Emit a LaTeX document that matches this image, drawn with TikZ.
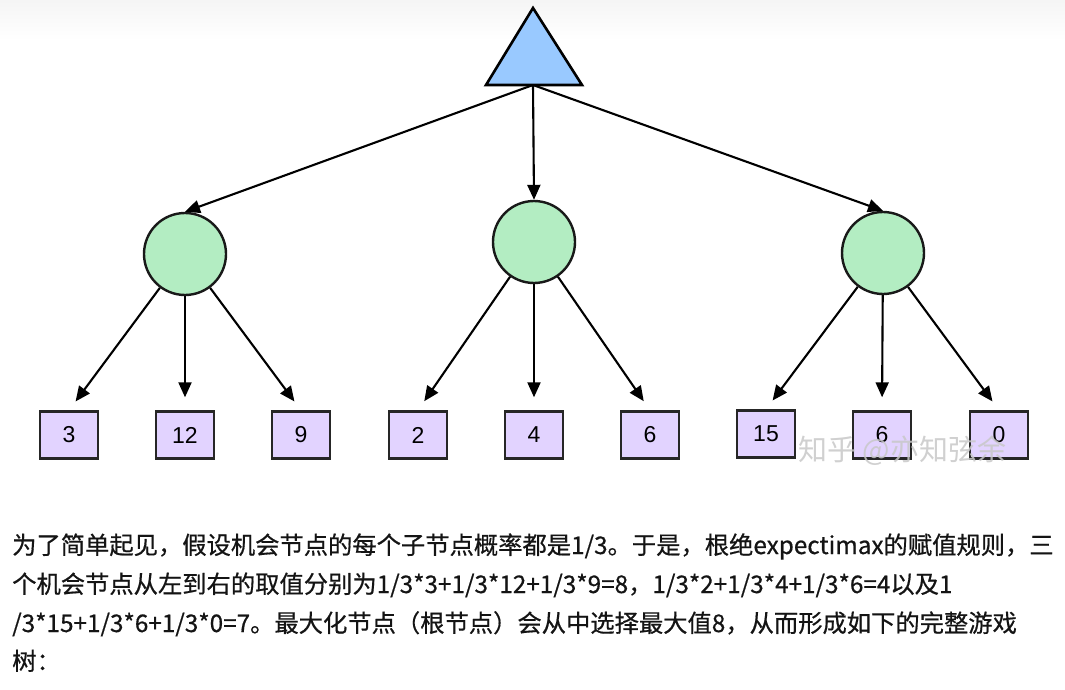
\documentclass[tikz,border=0pt]{standalone}
\usepackage{fontspec}
\setmainfont{Liberation Sans}
\newfontfamily\cjk[FakeBold=0.6]{Noto Sans CJK SC}
\newfontfamily\markfont{Noto Sans CJK SC}
\usetikzlibrary{arrows.meta, positioning}

\definecolor{maxblue}{HTML}{99C9FF}
\definecolor{chancegreen}{HTML}{B3EDC2}
\definecolor{leafpurple}{HTML}{E2D3FF}
\definecolor{markgray}{HTML}{C8C8C8}

\tikzset{
  chance/.style={circle, draw=black!90, line width=2.4pt, fill=chancegreen, minimum size=82pt, inner sep=0pt},
  leaf/.style={rectangle, draw=black!85, line width=2.4pt, fill=leafpurple, minimum width=58pt, minimum height=47pt, inner sep=0pt, font=\fontsize{23}{23}\selectfont},
  arr/.style={line width=2.1pt, -{Triangle[length=15pt, width=13pt]}},
  para/.style={anchor=base west, inner sep=0pt, text=black!92, font=\cjk\fontsize{24.3}{24.3}\selectfont}
}

\begin{document}
\begin{tikzpicture}[x=1pt, y=-1pt]
      \useasboundingbox (0,0) rectangle (1065,690);
      \shade[top color=black!4, bottom color=white] (0,0) rectangle (1065,40);

      % 1. 最大化节点（根）
      \coordinate (top) at (533,8);
      \coordinate (right) at (582,85);
      \coordinate (left) at (486,85);
      \coordinate (root) at (533,85);
      \draw[line width=2.6pt, fill=maxblue] (top) -- (right) -- (left) -- cycle;

      % 2. 三个机会节点
      \node[chance] (c1) at (185,254) {};
      \node[chance] (c2) at (534,242) {};
      \node[chance] (c3) at (883,253) {};

      % 3. 叶子节点
      \node[leaf] (l1) at (69,435) {3};
      \node[leaf] (l2) at (185,435) {12};
      \node[leaf] (l3) at (301,435) {9};
      \node[leaf] (l4) at (418,435) {2};
      \node[leaf] (l5) at (534,435) {4};
      \node[leaf] (l6) at (650,435) {6};
      \node[leaf] (l7) at (766,434) {15};
      \node[leaf] (l8) at (882,435) {6};
      \node[leaf] (l9) at (999,435) {0};

      % 4. 连线
      \draw[arr] (root) -- (c1.north);
      \draw[arr] (root) -- (c2.north);
      \draw[arr] (root) -- (c3.north);
      \draw[arr, shorten >=11pt] (c1) -- (l1.north);
      \draw[arr, shorten >=13pt] (c1) -- (l2.north);
      \draw[arr, shorten >=11pt] (c1) -- (l3.north);
      \draw[arr, shorten >=11pt] (c2) -- (l4.north);
      \draw[arr, shorten >=13pt] (c2) -- (l5.north);
      \draw[arr, shorten >=11pt] (c2) -- (l6.north);
      \draw[arr, shorten >=11pt] (c3) -- (l7.north);
      \draw[arr, shorten >=13pt] (c3) -- (l8.north);
      \draw[arr, shorten >=11pt] (c3) -- (l9.north);

      % 5. 水印
      \node[anchor=west, inner sep=0pt, text=markgray, opacity=0.85, font=\markfont\fontsize{29}{29}\selectfont] (mark) at (798,451) {知乎 @亦知弦余};

      % 6. 说明文字
      \node[para] (t1) at (12,554) {为了简单起见，假设机会节点的每个子节点概率都是1/3。于是，根绝expectimax的赋值规则，三};
      \node[para] (t2) at (12,593) {个机会节点从左到右的取值分别为1/3*3+1/3*12+1/3*9=8，1/3*2+1/3*4+1/3*6=4以及1};
      \node[para] (t3) at (12,632) {/3*15+1/3*6+1/3*0=7。最大化节点（根节点）会从中选择最大值8，从而形成如下的完整游戏};
      \node[para] (t4) at (12,670) {树：};
    \end{tikzpicture}
\end{document}
